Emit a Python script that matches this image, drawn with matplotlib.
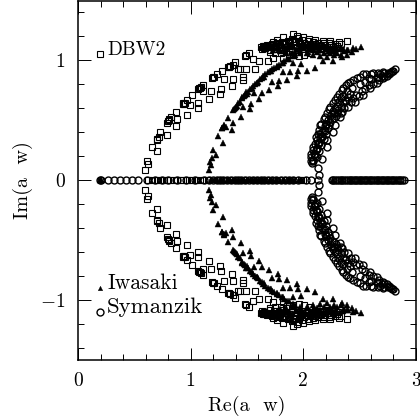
import matplotlib
matplotlib.use('Agg')
import matplotlib.pyplot as plt
import numpy as np

# eigenvalues, upper half plane (spectrum is mirrored in Im)
dbw2_re = [.592, .609, .624, .657, .701, .698, .705, .716, .731, .787, .787, .795, .804, .812, .825, .878, .873, .867,
           .967, .929, .935, .942, .949, .964, .994, 1.012, 1.068, 1.062, 1.068, 1.075, 1.082, 1.088, 1.112, 1.112, 1.180,
           1.162, 1.266, 1.263, 1.192, 1.200, 1.206, 1.236, 1.275, 1.295, 1.378, 1.366, 1.334, 1.340, 1.345, 1.372, 1.393, 1.420,
           1.437, 1.491, 1.574, 1.467, 1.467, 1.479, 1.490, 1.520, 1.556, 1.609, 1.689, 1.733, 1.822,
           1.733, 1.763, 1.822, 1.905, 1.941, 1.994, 2.050, 2.106, 2.171, 2.236, 2.319, 2.390,
           1.640, 1.680, 1.720, 1.770, 1.810, 1.860, 1.900, 1.950, 1.990, 2.040, 2.090, 2.130, 2.180, 2.230, 2.280, 2.330,
           1.630, 1.670, 1.710, 1.750, 1.790, 1.840, 1.880, 1.930, 1.970, 2.020, 2.070, 2.110, 2.160, 2.210, 2.260, 2.310,
           1.700, 1.750, 1.800, 1.850, 1.900, 1.940, 1.990, 2.040, 2.100, 2.150, 2.200, 2.250, 2.300,
           1.620, 1.660, 1.740, 1.820, 1.875, 1.910, 1.960, 2.010, 2.060,
           1.650, 1.690, 1.735, 1.780, 1.825, 1.870, 1.915, 1.960, 2.005, 2.055, 2.100, 2.145, 2.195, 2.245, 2.295,
           1.655, 1.700, 1.745, 1.785, 1.835, 1.885, 1.925, 1.975, 2.025, 2.075, 2.125, 2.175, 2.225, 2.275]
dbw2_im = [.086, .156, .136, .278, .244, .339, .330, .356, .400, .378, .478, .490, .500, .510, .522, .508, .447, .567,
           .539, .633, .640, .636, .639, .667, .628, .708, .639, .597, .756, .765, .768, .772, .792, .744, .744,
           .672, .756, .719, .847, .855, .860, .883, .911, .839, .839, .786, .944, .940, .950, .958, .983, .925,
           .922, .922, .922, .861, .833, 1.033, 1.040, 1.056, 1.006, .994, .994, 1.014, 1.014,
           1.153, 1.167, 1.189, 1.214, 1.200, 1.189, 1.175, 1.167, 1.161, 1.161, 1.153, 1.158,
           1.120, 1.128, 1.135, 1.145, 1.152, 1.160, 1.175, 1.180, 1.165, 1.155, 1.150, 1.145, 1.142, 1.138, 1.135, 1.130,
           1.095, 1.105, 1.110, 1.118, 1.125, 1.132, 1.140, 1.148, 1.138, 1.128, 1.122, 1.118, 1.115, 1.110, 1.105, 1.100,
           1.070, 1.062, 1.060, 1.068, 1.085, 1.100, 1.105, 1.098, 1.092, 1.088, 1.085, 1.080, 1.115,
           1.105, 1.112, 1.090, 1.080, 1.050, 1.040, 1.030, 1.045, 1.055,
           1.100, 1.118, 1.122, 1.135, 1.140, 1.150, 1.160, 1.160, 1.142, 1.135, 1.130, 1.125, 1.125, 1.122, 1.118,
           1.115, 1.085, 1.095, 1.100, 1.110, 1.120, 1.125, 1.115, 1.110, 1.105, 1.100, 1.100, 1.095, 1.090]

iwasaki_re = [1.162, 1.177, 1.171, 1.186, 1.201, 1.225, 1.245, 1.290, 1.281, 1.295, 1.310, 1.328, 1.372, 1.363,
              1.378, 1.390, 1.408, 1.437, 1.452, 1.482, 1.511, 1.556, 1.585, 1.615, 1.644, 1.689, 1.718, 1.763,
              1.807, 1.852, 1.911, 1.970, 2.044, 2.088, 2.147, 2.206, 2.266, 2.325, 2.384, 2.443,
              1.446, 1.467, 1.526, 1.532, 1.562, 1.609, 1.630, 1.698, 1.724, 1.778, 1.786, 1.857, 1.946,
              1.822, 1.881, 1.955, 2.029, 1.979, 1.911, 2.103, 2.177, 2.266, 2.339, 2.384, 2.428, 2.464, 2.508,
              1.640, 1.700, 1.760, 1.820, 1.880, 1.940, 2.000, 2.060, 2.120, 2.180, 2.240, 2.300, 2.360,
              1.670, 1.730, 1.790, 1.850, 1.910, 1.970, 2.030, 2.090, 2.150, 2.210, 2.270, 2.330,
              1.900, 1.960, 2.020, 2.080, 2.140, 2.200, 2.260,
              1.280, 1.300, 1.385, 1.400, 1.420, 1.470, 1.500, 1.530, 1.570, 1.600, 1.630, 1.660, 1.700, 1.740, 1.780,
              1.830, 1.870, 1.930, 1.460, 1.490, 1.540, 1.590, 1.650, 1.710, 1.770, 1.820,
              1.620, 1.660, 1.720, 1.780, 1.840, 1.900, 1.990, 2.050, 2.110, 2.170, 2.230, 2.290, 2.350, 2.400]
iwasaki_im = [.083, .125, .153, .181, .250, .208, .367, .306, .431, .458, .444, .514, .472, .417,
              .583, .600, .617, .653, .681, .708, .736, .783, .811, .839, .867, .900, .922, .950,
              .978, 1.006, 1.033, 1.056, 1.070, 1.080, 1.085, 1.090, 1.095, 1.100, 1.085, 1.097,
              .528, .606, .592, .633, .722, .675, .722, .750, .819, .783, .825, .833, .867,
              .903, .903, .908, .908, .964, .978, .936, .992, .994, 1.028, 1.042, 1.069, 1.089, 1.106,
              1.120, 1.125, 1.130, 1.120, 1.105, 1.095, 1.100, 1.090, 1.070, 1.060, 1.055, 1.060, 1.075,
              1.095, 1.085, 1.075, 1.070, 1.060, 1.080, 1.062, 1.040, 1.035, 1.028, 1.040, 1.045,
              1.140, 1.130, 1.120, 1.115, 1.110, 1.105, 1.110,
              .430, .450, .590, .610, .640, .700, .720, .760, .800, .820, .850, .880, .910, .930, .960,
              .990, 1.010, 1.040, .690, .730, .770, .810, .860, .905, .940, .975,
              1.110, 1.115, 1.110, 1.100, 1.085, 1.115, 1.115, 1.110, 1.105, 1.105, 1.100, 1.095, 1.090, 1.085]

symanzik_re = [2.073, 2.067, 2.082, 2.112, 2.147, 2.192, 2.236, 2.295, 2.354, 2.413, 2.473, 2.532, 2.620, 2.709, 2.813,
               2.162, 2.132, 2.141, 2.212, 2.212, 2.266, 2.281, 2.325, 2.340, 2.399, 2.458, 2.532, 2.591, 2.650, 2.709, 2.768,
               2.100, 2.110, 2.130, 2.150, 2.170, 2.190, 2.220, 2.250, 2.280, 2.310, 2.350, 2.390, 2.430,
               2.120, 2.140, 2.160, 2.180, 2.200, 2.220, 2.240, 2.270, 2.300, 2.330, 2.370, 2.410,
               2.500, 2.550, 2.580, 2.600, 2.650, 2.660, 2.700, 2.740, 2.750, 2.790,
               2.085, 2.095, 2.120, 2.140, 2.165, 2.180, 2.205, 2.235, 2.265, 2.300, 2.335,
               2.070, 2.070, 2.090, 2.100, 2.120, 2.130, 2.140, 2.160, 2.180, 2.210, 2.230, 2.260, 2.280, 2.320, 2.340,
               2.380, 2.400, 2.440, 2.500, 2.560, 2.600, 2.660,
               2.090, 2.100, 2.120, 2.140, 2.150, 2.170, 2.190, 2.200, 2.230, 2.250, 2.270, 2.290, 2.310, 2.330, 2.350,
               2.360, 2.380, 2.400, 2.420, 2.440, 2.470, 2.490, 2.520, 2.550, 2.580, 2.620, 2.670, 2.720, 2.760, 2.680,
               2.720, 2.780, 2.800]
symanzik_im = [.139, .194, .278, .361, .458, .528, .611, .694, .764, .819, .847, .883, .889, .903, .922,
               .172, .097, .042, .278, .333, .403, .458, .528, .569, .611, .653, .708, .764, .806, .847, .889,
               .200, .250, .300, .350, .400, .450, .500, .550, .600, .650, .700, .740, .770,
               .190, .240, .290, .340, .380, .430, .480, .520, .560, .610, .670, .720,
               .800, .820, .850, .840, .850, .860, .870, .870, .890, .905,
               .160, .220, .270, .320, .365, .420, .470, .530, .575, .620, .680,
               .160, .220, .250, .300, .330, .380, .420, .470, .510, .560, .590, .640, .670, .720, .750,
               .790, .810, .830, .860, .885, .885, .895,
               .170, .220, .260, .310, .380, .360, .410, .460, .460, .510, .560, .530, .580, .560, .640,
               .600, .660, .690, .650, .680, .710, .700, .740, .760, .790, .800, .830, .860, .880, .880,
               .890, .900, .910]

# real eigenvalues, on the Im = 0 line
real_circles = [.195, .200, .269, .322, .373, .423, .476, .535, .609, .680, .745, .800, .880, .960, 1.040, 1.120,
                1.160, 1.200, 1.230, 1.260, 1.290, 1.320, 1.355, 1.390, 1.420, 1.450, 1.485, 1.520, 1.555, 1.590,
                1.620, 1.650, 1.685, 1.720, 1.760, 1.800, 1.835, 1.870, 1.910, 1.950, 2.020, 2.065, 2.130,
                2.250, 2.265, 2.280, 2.300, 2.315, 2.330, 2.345, 2.365, 2.380, 2.395, 2.410, 2.425, 2.440, 2.455,
                2.470, 2.485, 2.500, 2.515, 2.530, 2.545, 2.560, 2.575, 2.590, 2.605, 2.620, 2.635, 2.650, 2.665,
                2.680, 2.695, 2.710, 2.725, 2.740, 2.755, 2.770, 2.785, 2.800, 2.815, 2.830, 2.845, 2.860, 2.875, 2.890]
real_squares = [.620, .660, .700, .730, .760, .790, .820, .850, .880, .910, .930, .970, 1.000, 1.010, 1.050, 1.080,
                1.110, 1.150, 1.240, 1.300, 1.360, 1.420, 1.480, 1.550, 1.610, 1.680, 1.740, 1.780, 1.850, 1.900,
                1.980, 2.000]
real_triangles = [.195, .200, .205, 1.180, 1.210, 1.230, 1.260, 1.290, 1.320, 1.350, 1.380, 1.410, 1.440, 1.470, 1.500,
                  1.520, 1.540, 1.555, 1.570, 1.590, 1.610, 1.630, 1.650, 1.670, 1.700, 1.730, 1.760, 1.790, 1.830,
                  1.860, 1.890, 1.920, 1.960, 1.985, 2.260, 2.340, 2.420, 2.500, 2.580, 2.660, 2.740, 2.820]

legend_labels = ['DBW2', 'Iwasaki', 'Symanzik']
legend_sizes = [14, 15.5, 16.5]
legend_x = [.195, .195, .195]
legend_y = [1.05, -.90, -1.10]
label_x = [.257, .257, .257]
label_y = [1.04, -.905, -1.105]

plt.rcParams['font.family'] = ['cmr10', 'DejaVu Serif']
plt.rcParams['mathtext.fontset'] = 'cm'
plt.rcParams['axes.unicode_minus'] = False
plt.rcParams['axes.formatter.use_mathtext'] = True

W = H = 420
fig = plt.figure(figsize=(4.2, 4.2), dpi=100)
ax = fig.add_axes([78 / W, 60 / H, 338 / W, 359 / H])

tri = dict(marker='^', ls='none', mfc='k', mec='k', ms=4.0, mew=.3)
sq = dict(marker='s', ls='none', mfc='none', mec='k', ms=3.8, mew=.8)
circ = dict(marker='o', ls='none', mfc='none', mec='k', ms=5.0, mew=1.0)

for re, im, style in [(iwasaki_re, iwasaki_im, tri), (symanzik_re, symanzik_im, circ), (dbw2_re, dbw2_im, sq)]:
    re = np.array(re)
    im = np.array(im)
    ax.plot(re, im, **style)
    ax.plot(re, -im, **style)

ax.plot(real_triangles, np.zeros(len(real_triangles)), **tri)
ax.plot(real_squares, np.zeros(len(real_squares)), **sq)
ax.plot(real_circles, np.zeros(len(real_circles)), **circ)

ax.plot(legend_x[0], legend_y[0], **sq)
ax.plot(legend_x[1], legend_y[1], **dict(tri, ms=3.2))
ax.plot(legend_x[2], legend_y[2], **circ)
for x, y, s, fs in zip(label_x, label_y, legend_labels, legend_sizes):
    ax.text(x, y, s, fontsize=fs, ha='left', va='baseline')

ax.set_xlim(0, 3)
ax.set_ylim(-1.5, 1.492)
ax.set_xticks([0, 1, 2, 3])
ax.set_xticklabels(['0', '1', '2', '3'])
ax.set_yticks([-1, 0, 1])
ax.set_yticklabels([r'$-$1', '0', '1'])
ax.set_xticks(np.arange(0, 3.01, .2), minor=True)
ax.set_yticks(np.arange(-1.4, 1.41, .2), minor=True)
ax.tick_params(which='major', direction='in', top=True, right=True, length=9, width=.7, labelsize=14, pad=9)
ax.tick_params(which='minor', direction='in', top=True, right=True, length=4.5, width=.7)
for s in ax.spines.values():
    s.set_linewidth(1.1)

ax.set_xlabel('Re(a  w)', fontsize=14.5, labelpad=4)
ax.set_ylabel('Im(a  w)', fontsize=14.5, labelpad=5)

fig.savefig('out.png', dpi=100)
